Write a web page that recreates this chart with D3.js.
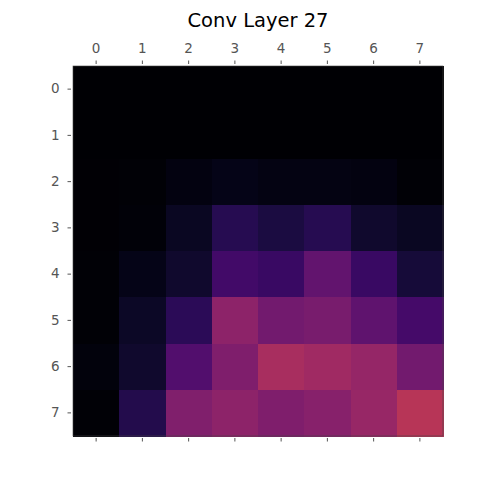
<!DOCTYPE html>
<html>
<head>
<meta charset="utf-8">
<script src="https://d3js.org/d3.v7.min.js"></script>
<style>
  body { margin: 0; background: #fff; }
  text { font-family: "DejaVu Sans", sans-serif; }
</style>
</head>
<body>
<div id="chart"></div>
<script>
var width = 480, height = 480;

// activation values (inferno colour scale, 0..1)
var rows = [0, 1, 2, 3, 4, 5, 6, 7];
var cols = [0, 1, 2, 3, 4, 5, 6, 7];
var row0 = [0.0, 0.0, 0.0, 0.0, 0.0, 0.0, 0.0, 0.0];
var row1 = [0.0, 0.0, 0.0, 0.0, 0.0, 0.0, 0.0, 0.0];
var row2 = [0.005, 0.01, 0.03, 0.04, 0.035, 0.035, 0.03, 0.01];
var row3 = [0.005, 0.015, 0.06, 0.14, 0.11, 0.14, 0.08, 0.06];
var row4 = [0.01, 0.04, 0.08, 0.2, 0.18, 0.28, 0.18, 0.1];
var row5 = [0.01, 0.07, 0.15, 0.385, 0.32, 0.335, 0.27, 0.21];
var row6 = [0.02, 0.08, 0.24, 0.35, 0.45, 0.43, 0.405, 0.32];
var row7 = [0.01, 0.13, 0.355, 0.385, 0.35, 0.37, 0.41, 0.49];
var grid = [row0, row1, row2, row3, row4, row5, row6, row7];

var mLeft = 73, mTop = 66, size = 370;

var svg = d3.select("#chart").append("svg")
  .attr("width", width)
  .attr("height", height);

var x = d3.scaleBand().domain(cols).range([mLeft, mLeft + size]);
var y = d3.scaleBand().domain(rows).range([mTop, mTop + size]);
var color = d3.scaleSequential(d3.interpolateInferno).domain([0, 1]);

// cells
grid.forEach(function(r, i) {
  svg.append("g").selectAll("rect")
    .data(r)
    .enter().append("rect")
    .attr("x", function(d, j) { return Math.round(x(cols[j])); })
    .attr("y", Math.round(y(rows[i])))
    .attr("width", function(d, j) { return Math.round(x(cols[j]) + x.bandwidth()) - Math.round(x(cols[j])) + 1; })
    .attr("height", Math.round(y(rows[i]) + y.bandwidth()) - Math.round(y(rows[i])) + 1)
    .attr("shape-rendering", "crispEdges")
    .attr("fill", function(d) { return color(d); });
});

svg.append("rect")
  .attr("x", mLeft)
  .attr("y", mTop)
  .attr("width", size)
  .attr("height", size)
  .attr("fill", "none")
  .attr("stroke", "#444")
  .attr("stroke-width", 0.6);

// axes
var topAxis = svg.append("g")
  .attr("transform", "translate(0," + (mTop - 2) + ")")
  .call(d3.axisTop(x).tickSize(3.5).tickPadding(8));
var bottomAxis = svg.append("g")
  .attr("transform", "translate(0," + (mTop + size + 2) + ")")
  .call(d3.axisBottom(x).tickSize(3.5).tickFormat(""));
var leftAxis = svg.append("g")
  .attr("transform", "translate(" + (mLeft - 2) + ",0)")
  .call(d3.axisLeft(y).tickSize(3.5).tickPadding(8));

[topAxis, bottomAxis, leftAxis].forEach(function(a) {
  a.select(".domain").remove();
  a.selectAll("line").attr("stroke", "#555").attr("stroke-width", 1);
  a.selectAll("text")
    .attr("fill", "#555")
    .style("font-size", "13.5px")
    .style("font-family", "DejaVu Sans");
});

svg.append("text")
  .text("Conv Layer 27")
  .attr("x", mLeft + size / 2)
  .attr("y", 27)
  .style("font-size", "19.5px")
  .style("text-anchor", "middle")
  .attr("fill", "#000");
</script>
</body>
</html>
